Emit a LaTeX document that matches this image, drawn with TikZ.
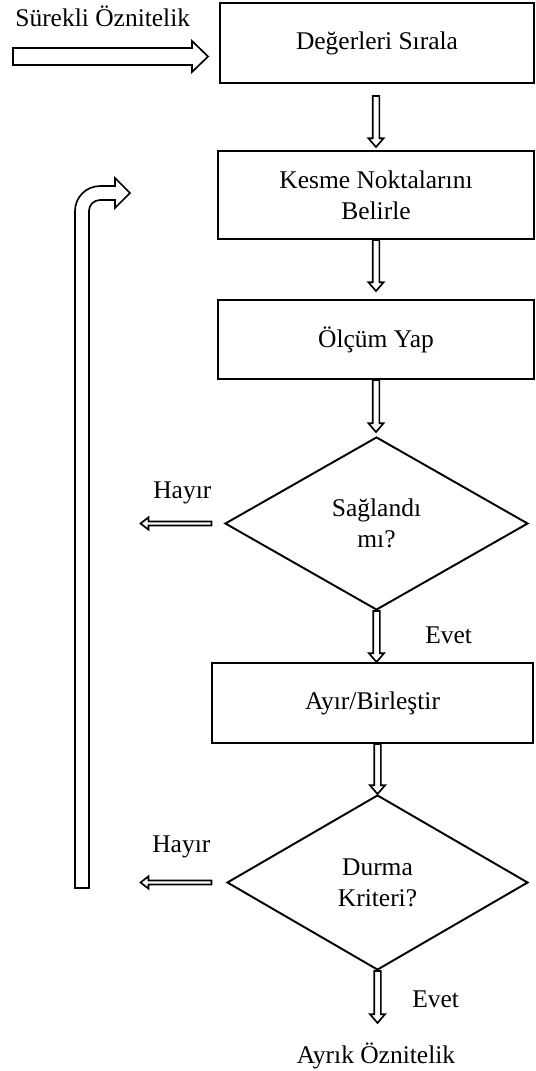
\documentclass[tikz,border=0pt]{standalone}
\usepackage{fontspec}
\setmainfont{Liberation Serif}
\usetikzlibrary{calc}
\usetikzlibrary{shapes.geometric}

\tikzset{
    kutu/.style={draw, line width=1.1pt, rectangle, inner sep=0pt, align=center},
    karar/.style={draw, line width=1.1pt, diamond, inner sep=0pt, align=center},
    etiket/.style={inner sep=0pt},
    blok/.style={draw, line width=0.95pt, line join=miter, fill=white},
}

\newcommand{\asagi}[2]{%
    \draw[blok] let \p1=(#1), \p2=(#2) in
        (\x1-1.9pt,\y1) -- (\x1-1.9pt,\y2+5pt) -- (\x1-4.3pt,\y2+5pt) -- (\x1,\y2)
        -- (\x1+4.3pt,\y2+5pt) -- (\x1+1.9pt,\y2+5pt) -- (\x1+1.9pt,\y1) -- cycle;}
\newcommand{\sola}[2]{%
    \draw[blok] let \p1=(#1), \p2=(#2) in
        (\x1,\y1-1.1pt) -- (\x2+4.5pt,\y1-1.1pt) -- (\x2+4.5pt,\y1-3.5pt) -- (\x2,\y1)
        -- (\x2+4.5pt,\y1+3.5pt) -- (\x2+4.5pt,\y1+1.1pt) -- (\x1,\y1+1.1pt) -- cycle;}
\newcommand{\saga}[2]{%
    \draw[blok] let \p1=(#1), \p2=(#2) in
        (\x1,\y1-4.8pt) -- (\x2-9.1pt,\y1-4.8pt) -- (\x2-9.1pt,\y1-8.8pt) -- (\x2,\y1)
        -- (\x2-9.1pt,\y1+8.8pt) -- (\x2-9.1pt,\y1+4.8pt) -- (\x1,\y1+4.8pt) -- cycle;}

\begin{document}
\begin{tikzpicture}[x=0.02cm, y=-0.02cm, font=\fontsize{14.5}{17.5}\selectfont]
    \useasboundingbox (0,0) rectangle (535,1071);

    \node[kutu, minimum width=6.28cm, minimum height=1.6cm] (sirala) at (377,43) {Değerleri Sırala};
    \node[kutu, minimum width=6.32cm, minimum height=1.76cm] (kesme) at (376,195) {Kesme Noktalarını\\Belirle};
    \node[kutu, minimum width=6.32cm, minimum height=1.58cm] (olcum) at (376,339.5) {Ölçüm Yap};
    \node[karar, minimum width=6.06cm, minimum height=3.46cm] (sagla) at (376.5,523.5) {Sağlandı\\mı?};
    \node[kutu, minimum width=6.42cm, minimum height=1.6cm] (ayir) at (372.5,703) {Ayır/Birleştir};
    \node[karar, minimum width=6.02cm, minimum height=3.5cm] (durma) at (377.5,882.5) {Durma\\Kriteri?};

    \node[etiket, anchor=base west] (girdi) at (15,27) {Sürekli Öznitelik};
    \node[etiket, anchor=base west] (hayir1) at (153,498) {Hayır};
    \node[etiket, anchor=base west] (evet1) at (425,643) {Evet};
    \node[etiket, anchor=base west] (hayir2) at (152,852) {Hayır};
    \node[etiket, anchor=base west] (evet2) at (412,1007) {Evet};
    \node[etiket, anchor=base] (cikti) at (376,1063) {Ayrık Öznitelik};

    \coordinate (girdibas) at (13,56.5);
    \coordinate (girdiuc) at ($(sirala.west)+(-11,13.5)$);
    \saga{girdibas}{girdiuc};

    \coordinate (a1) at ($(sirala.south)+(-1,12)$);
    \asagi{a1}{$(kesme.north)+(0,-3)$};
    \asagi{kesme.south}{$(olcum.north)+(0,-8)$};
    \asagi{olcum.south}{$(sagla.north)+(0,-4)$};
    \asagi{sagla.south}{ayir.north};
    \asagi{ayir.south -| durma.north}{durma.north};
    \coordinate (son) at ($(durma.south)+(0,52)$);
    \asagi{durma.south}{son};

    \sola{$(sagla.west)+(-12.5,0)$}{$(sagla.west)+(-83.5,0)$};
    \sola{$(durma.west)+(-14.5,0)$}{$(durma.west)+(-85.5,0)$};

    \draw[blok] (75,888) -- (75,211) arc[start angle=180, end angle=90, radius=14.2pt]
        -- (115,186) -- (115,178) -- (130,193) -- (115,208) -- (115,200) -- (100,200)
        arc[start angle=90, end angle=180, radius=6.3pt] -- (89,888) -- cycle;
\end{tikzpicture}
\end{document}
